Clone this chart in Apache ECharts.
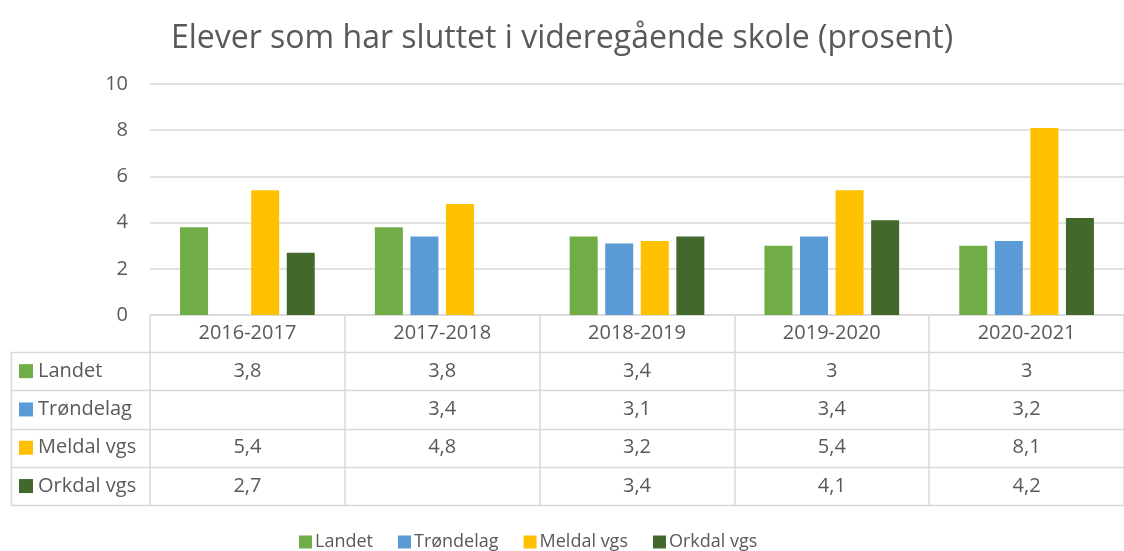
<!DOCTYPE html>
<html>
<head>
<meta charset="utf-8">
<script src="https://cdn.jsdelivr.net/npm/echarts@6/dist/echarts.min.js"></script>
<style>
  html, body { margin: 0; padding: 0; background: #fff; }
  #echarts { width: 1124px; height: 551px; }
</style>
</head>
<body>
<div id="echarts"></div>
<script>
// data
var categories = ['2016-2017', '2017-2018', '2018-2019', '2019-2020', '2020-2021'];
var seriesNames = ['Landet', 'Trøndelag', 'Meldal vgs', 'Orkdal vgs'];
var landet = [3.8, 3.8, 3.4, 3, 3];
var trondelag = [null, 3.4, 3.1, 3.4, 3.2];
var meldal = [5.4, 4.8, 3.2, 5.4, 8.1];
var orkdal = [2.7, null, 3.4, 4.1, 4.2];
var yTicks = [0, 2, 4, 6, 8, 10];

var colors = ['#70AD47', '#5B9BD5', '#FFC000', '#43682B'];
var values = [landet, trondelag, meldal, orkdal];
var FONT = 'Open Sans';
var TXT = '#595959';
var LINE = '#D9D9D9';
var FS = 20;

var gridLeft = 150, gridTop = 84, gridWidth = 985, gridBottomY = 315;
var tableLeft = 11, rowTop = 352, rowH = 38.3;

var myChart = echarts.init(document.getElementById('echarts'));

var series = [];
seriesNames.forEach(function (name, i) {
  series.push({
    name: name,
    type: 'bar',
    barWidth: 28,
    barGap: '27%',
    itemStyle: { color: colors[i] },
    data: values[i]
  });
});

var option = {
  animation: false,
  color: colors,
  textStyle: { fontFamily: FONT },
  title: {
    text: 'Elever som har sluttet i videregående skole (prosent)',
    left: 'center',
    top: 18,
    textStyle: { fontFamily: FONT, fontSize: 32, fontWeight: 'normal', color: TXT }
  },
  legend: {
    data: seriesNames,
    left: 294,
    top: 528,
    icon: 'rect',
    itemWidth: 13,
    itemHeight: 13,
    itemGap: 25,
    textStyle: { fontFamily: FONT, fontSize: 18, color: TXT, padding: [0, 0, 0, -2] }
  },
  grid: {
    left: gridLeft,
    top: gridTop,
    width: gridWidth,
    height: gridBottomY - gridTop,
    containLabel: false
  },
  xAxis: [{
    type: 'category',
    data: categories,
    boundaryGap: true,
    axisLine: { show: true, lineStyle: { color: LINE, width: 1.5 } },
    axisTick: { show: true, length: 190, lineStyle: { color: LINE, width: 1.5 } },
    axisLabel: { fontFamily: FONT, fontSize: FS, color: TXT, margin: 8 }
  }],
  yAxis: [{
    type: 'value',
    min: yTicks[0],
    max: yTicks[yTicks.length - 1],
    interval: 2,
    axisLine: { show: false },
    axisTick: { show: false },
    axisLabel: { fontFamily: FONT, fontSize: FS, color: TXT, margin: 22 },
    splitLine: { show: true, lineStyle: { color: LINE, width: 1.5 } }
  }],
  series: series
};
myChart.setOption(option);

// data table under the axis
function fmt(v) {
  if (v === null || v === undefined) return '';
  return String(v).replace('.', ',');
}

var graphic = [];
var tableRight = gridLeft + gridWidth;
for (var r = 0; r <= seriesNames.length; r++) {
  var y = Math.round(rowTop + r * rowH) + 0.5;
  graphic.push({
    type: 'line', silent: true,
    shape: { x1: tableLeft, y1: y, x2: tableRight, y2: y },
    style: { stroke: LINE, lineWidth: 1.5 }
  });
}
graphic.push({
  type: 'line', silent: true,
  shape: { x1: tableLeft + 0.5, y1: rowTop, x2: tableLeft + 0.5, y2: rowTop + seriesNames.length * rowH },
  style: { stroke: LINE, lineWidth: 1.5 }
});

seriesNames.forEach(function (name, i) {
  var cy = rowTop + i * rowH + rowH / 2;
  graphic.push({
    type: 'rect', silent: true,
    shape: { x: 19, y: cy - 7, width: 14, height: 14 },
    style: { fill: colors[i] }
  });
  graphic.push({
    type: 'text', silent: true,
    x: 38, y: cy,
    style: { text: name, fontFamily: FONT, fontSize: FS, fill: TXT, verticalAlign: 'middle', align: 'left' }
  });
  categories.forEach(function (c, j) {
    var cx = myChart.convertToPixel({ xAxisIndex: 0 }, c);
    graphic.push({
      type: 'text', silent: true,
      x: cx, y: cy,
      style: { text: fmt(values[i][j]), fontFamily: FONT, fontSize: FS, fill: TXT, verticalAlign: 'middle', align: 'center' }
    });
  });
});

myChart.setOption({ graphic: graphic });
</script>
</body>
</html>
